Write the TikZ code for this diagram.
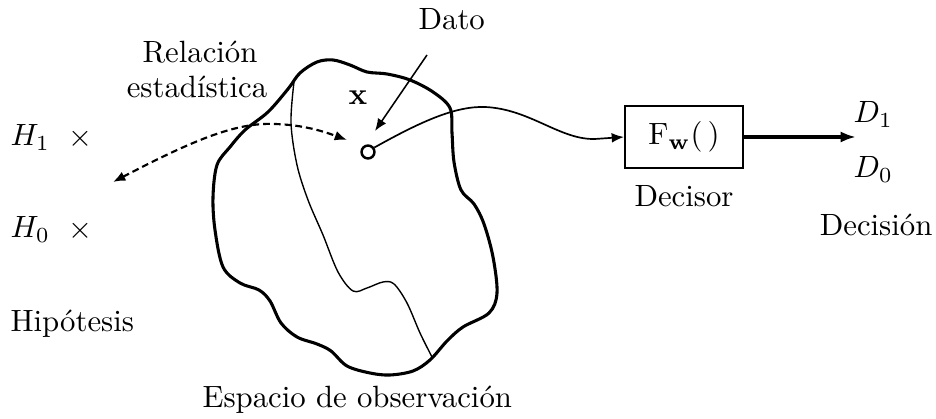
\documentclass[tikz,border=0pt]{standalone}
\usetikzlibrary{arrows.meta}
\tikzset{
  outline/.style={line width=1pt, line join=round},
  thinline/.style={line width=0.45pt},
  lbl/.style={inner sep=0pt, anchor=base west},
  clbl/.style={inner sep=0pt, anchor=base},
  tip/.style={-{Latex[length=4pt,width=3.2pt]}},
  dashedarrow/.style={line width=0.7pt, dash pattern=on 2.2pt off 1.3pt, {Latex[length=4pt,width=3.2pt]}-{Latex[length=4pt,width=3.2pt]}},
  decisorbox/.style={draw, line width=0.6pt, minimum width=38.4pt, minimum height=20.2pt, inner sep=0pt},
  datopoint/.style={circle, draw, line width=0.8pt, minimum size=4.2pt, inner sep=0pt},
}
\begin{document}
\begin{tikzpicture}[x=0.325pt,y=-0.325pt]
\useasboundingbox (0,0) rectangle (936,419);
% observation space
\draw[outline] plot[smooth cycle, tension=0.55] coordinates {
 (300,73) (317,62) (333,60) (350,65) (367,72) (387,74) (410,80) (433,92)
 (450,108) (452,133) (454,162) (461,190) (474,204) (484,224) (493,257)
 (497,293) (489,313) (463,327) (447,341) (430,360) (413,371) (390,375)
 (370,373) (347,366) (331,351) (317,344) (297,337) (281,323) (270,301)
 (259,290) (240,283) (223,267) (215,230) (213,197) (217,165) (230,147)
 (245,130) (268,112) (288,89)};
\draw[thinline] plot[smooth, tension=0.55] coordinates {
 (294,82) (291,123) (297,165) (308,200) (323,235) (338,272) (353,291)
 (367,288) (383,282) (394,284) (407,303) (420,333) (432,357)};
% texts
\node[lbl] (datot) at (418,30) {Dato};
\node[clbl] (rel1) at (200,63) {Relación};
\node[clbl] (rel2) at (197,98) {estadística};
\node[clbl] (xl) at (358,105) {$\mathbf{x}$};
\node[lbl] (h1) at (10,146) {$H_1$};
\node[inner sep=0pt] (m1) at (80,139) {$\times$};
\node[lbl] (h0) at (10,238) {$H_0$};
\node[inner sep=0pt] (m0) at (80,231) {$\times$};
\node[lbl] (hip) at (10,332) {Hipótesis};
\node[lbl] (esp) at (202,408) {Espacio de observación};
\node[decisorbox] (fw) at (684,137) {$\mathrm{F}_{\mathbf{w}}(\,)$};
\node[clbl] (dec) at (684,207) {Decisor};
\node[lbl] (d1) at (853,123) {$D_1$};
\node[lbl] (d0) at (853,178) {$D_0$};
\node[inner sep=0pt, anchor=base east] (decn) at (933,236) {Decisión};
% data point
\node[datopoint] (dp) at (368,152) {};
\coordinate (datostart) at (427,55);
\coordinate (datoend) at (375,131);
\coordinate (relleft) at (113,182);
\coordinate (relright) at (347,140);
\coordinate (outend) at (856,137);
% connectors
\draw[thinline, line width=0.5pt, tip] (datostart) -- (datoend);
\draw[dashedarrow] (relleft) .. controls (190,142) and (235,122) .. (275,124)
   .. controls (305,125) and (325,132) .. (relright);
\draw[thinline, line width=0.55pt, tip] (dp.35) .. controls (420,122) and (455,106) .. (485,107)
   .. controls (530,109) and (560,140) .. (595,139) -- (fw.west);
\draw[line width=1pt, -{Latex[length=5pt,width=3.6pt]}] (fw.east) -- (outend);
\end{tikzpicture}
\end{document}
